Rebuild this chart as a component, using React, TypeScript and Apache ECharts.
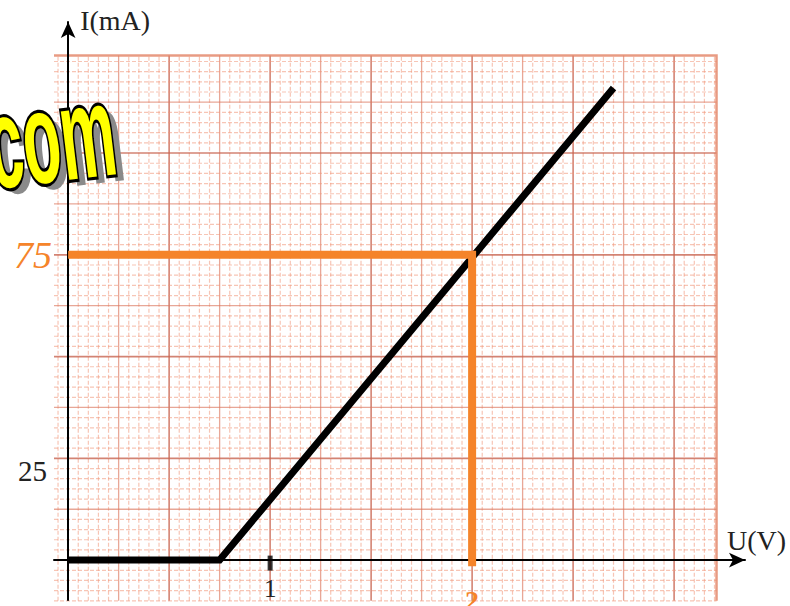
import React, { useEffect, useRef } from "react";
import * as echarts from "echarts";

// ---- data ----
const CHARACTERISTIC: [number, number][] = [
  [0, 0],
  [0.75, 0],
  [2.7, 116],
];
const READING_GUIDE: [number, number][] = [
  [0, 75],
  [2, 75],
  [2, -1.5],
];
const X_LABELS = [1, 2];
const Y_LABELS = [25, 75];
const X_TICK_MARKS: [number, number][] = [[1, 0]];
const HIGHLIGHT_X = 2;
const HIGHLIGHT_Y = 75;
const Y_NAME = "I(mA)";
const X_NAME = "U(V)";
const WATERMARK = "com";

// graph-paper extent (data units)
const PAPER_X: [number, number] = [-0.07, 3.21];
const PAPER_Y: [number, number] = [-10, 124];
const PAPER_STEP_X = 0.05;
const PAPER_STEP_Y = 2.5;

const ORANGE = "#f5842a";
const SERIF = "'Liberation Serif', 'Times New Roman', serif";

function paperLines(min: number, max: number, step: number) {
  const out: { v: number; level: number }[] = [];
  const start = Math.ceil(min / step - 1e-9);
  const end = Math.floor(max / step + 1e-9);
  for (let i = start; i <= end; i++) {
    const level = i % 10 === 0 ? 2 : i % 5 === 0 ? 1 : 0;
    out.push({ v: +(i * step).toFixed(4), level });
  }
  return out;
}

export default function App() {
  const ref = useRef<HTMLDivElement>(null);

  useEffect(() => {
    document.body.style.margin = "0";
    if (!ref.current) return;
    const chart = echarts.init(ref.current, undefined, { renderer: "svg" });

    const vLines = paperLines(PAPER_X[0], PAPER_X[1], PAPER_STEP_X);
    const hLines = paperLines(PAPER_Y[0], PAPER_Y[1], PAPER_STEP_Y);
    const lineStyle = (level: number) =>
      level === 2
        ? { stroke: "rgba(200,100,80,0.8)", lineWidth: 1.6 }
        : level === 1
        ? { stroke: "rgba(220,120,96,0.65)", lineWidth: 1.3 }
        : { stroke: "rgba(240,150,120,0.55)", lineWidth: 1.2, lineDash: [4, 2] };

    const option: any = {
      animation: false,
      backgroundColor: "#ffffff",
      grid: {
        left: 54,
        right: 45,
        top: 22,
        bottom: 6,
        containLabel: false,
        outerBoundsMode: "none",
      },
      xAxis: {
        type: "value",
        min: -0.07,
        max: 3.351,
        name: X_NAME,
        nameLocation: "end",
        nameGap: -18,
        nameTextStyle: {
          fontFamily: SERIF,
          fontSize: 28,
          color: "#222",
          align: "left",
          verticalAlign: "bottom",
          padding: [0, 0, 6, 0],
        },
        axisLine: {
          onZero: true,
          symbol: ["none", "arrow"],
          symbolSize: [11, 16],
          lineStyle: { color: "#000", width: 2 },
        },
        axisTick: { show: false },
        splitLine: { show: false },
        axisLabel: {
          customValues: X_LABELS,
          margin: -24,
          formatter: (v: number) => (v === HIGHLIGHT_X ? `{o|${v}}` : `{k|${v}}`),
          rich: {
            k: { fontFamily: SERIF, fontSize: 25, color: "#222" },
            o: {
              fontFamily: SERIF,
              fontSize: 28,
              color: ORANGE,
              fontWeight: "bold",
              padding: [10, 0, 0, 0],
            },
          },
        },
      },
      yAxis: {
        type: "value",
        min: -9.8,
        max: 132.2,
        name: Y_NAME,
        nameLocation: "end",
        nameGap: -12,
        nameTextStyle: {
          fontFamily: SERIF,
          fontSize: 28,
          color: "#222",
          align: "left",
          verticalAlign: "bottom",
          padding: [0, 0, 0, 12],
        },
        axisLine: {
          onZero: true,
          symbol: ["none", "arrow"],
          symbolSize: [11, 16],
          lineStyle: { color: "#000", width: 2 },
        },
        axisTick: { show: false },
        splitLine: { show: false },
        axisLabel: {
          customValues: Y_LABELS,
          margin: 2,
          formatter: (v: number) => (v === HIGHLIGHT_Y ? `{o|${v}}` : `{k|${v}}`),
          rich: {
            k: {
              fontFamily: SERIF,
              fontSize: 29,
              color: "#222",
              padding: [26, 5, 0, 0],
            },
            o: {
              fontFamily: SERIF,
              fontSize: 38,
              color: ORANGE,
              fontStyle: "italic",
            },
          },
        },
      },
      series: [
        {
          type: "custom",
          z: -10,
          silent: true,
          data: [[0, 0]],
          renderItem: (_params: any, api: any) => {
            const children: any[] = [];
            for (const l of vLines) {
              const a = api.coord([l.v, PAPER_Y[0]]);
              const b = api.coord([l.v, PAPER_Y[1]]);
              children.push({
                type: "line",
                shape: { x1: a[0], y1: a[1], x2: b[0], y2: b[1] },
                style: lineStyle(l.level),
              });
            }
            for (const l of hLines) {
              const a = api.coord([PAPER_X[0], l.v]);
              const b = api.coord([PAPER_X[1], l.v]);
              children.push({
                type: "line",
                shape: { x1: a[0], y1: a[1], x2: b[0], y2: b[1] },
                style: lineStyle(l.level),
              });
            }
            // paper border
            const tl = api.coord([PAPER_X[0], PAPER_Y[1]]);
            const tr = api.coord([PAPER_X[1], PAPER_Y[1]]);
            const br = api.coord([PAPER_X[1], PAPER_Y[0]]);
            children.push({
              type: "polyline",
              shape: { points: [tl, tr, br] },
              style: { stroke: "rgba(226,130,100,0.8)", lineWidth: 2.5, fill: "none" },
            });
            return { type: "group", children };
          },
        },
        {
          type: "line",
          data: CHARACTERISTIC,
          symbol: "none",
          z: 5,
          lineStyle: { color: "#000", width: 7, cap: "butt", join: "miter" },
        },
        {
          type: "line",
          data: READING_GUIDE,
          symbol: "none",
          z: 6,
          lineStyle: { color: ORANGE, width: 8, join: "miter" },
        },
        {
          type: "scatter",
          data: X_TICK_MARKS,
          symbol: "rect",
          symbolSize: [5, 15],
          symbolOffset: [0, 3],
          z: 7,
          itemStyle: { color: "#000" },
        },
      ],
      graphic: [
        {
          type: "text",
          x: -12,
          y: 86,
          rotation: 0.12,
          scaleX: 0.62,
          scaleY: 1.3,
          silent: true,
          z: 100,
          style: {
            text: WATERMARK,
            fontFamily: "'Liberation Sans', Arial, sans-serif",
            fontWeight: "bold",
            fontSize: 100,
            fill: "#8a8a8a",
            verticalAlign: "top",
          },
        },
        {
          type: "text",
          x: -20,
          y: 80,
          rotation: 0.12,
          scaleX: 0.62,
          scaleY: 1.3,
          silent: true,
          z: 101,
          style: {
            text: WATERMARK,
            fontFamily: "'Liberation Sans', Arial, sans-serif",
            fontWeight: "bold",
            fontSize: 100,
            fill: "#ffff00",
            stroke: "#000",
            lineWidth: 5,
            verticalAlign: "top",
          },
        },
      ],
    };

    chart.setOption(option);
    return () => chart.dispose();
  }, []);

  return <div ref={ref} style={{ width: 790, height: 606 }} />;
}
